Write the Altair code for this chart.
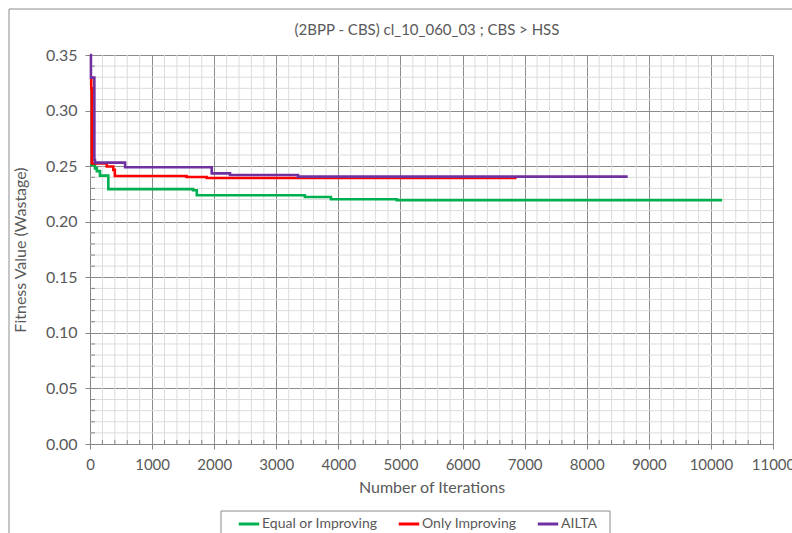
import altair as alt
import pandas as pd

# Convergence traces (iteration at which the best fitness changes, new fitness value)
eq_iter = [0, 80, 110, 160, 295, 1660, 1720, 3460, 3880, 4940, 10180]
eq_val = [0.251, 0.248, 0.2455, 0.2415, 0.2293, 0.2283, 0.2238, 0.2222, 0.2202, 0.2194, 0.2194]

only_iter = [0, 20, 30, 270, 375, 400, 1555, 1880, 6870]
only_val = [0.329, 0.320, 0.2525, 0.2497, 0.2466, 0.2411, 0.2402, 0.2393, 0.2393]

ailta_iter = [0, 15, 70, 80, 565, 1960, 2255, 3350, 8660]
ailta_val = [0.350, 0.3296, 0.2555, 0.2532, 0.2490, 0.2435, 0.2420, 0.2406, 0.2406]

series_names = ["Equal or Improving", "Only Improving", "AILTA"]
series_colors = ["#00B050", "#FF0000", "#7030A0"]

chart_title = "(2BPP - CBS) cl_10_060_03 ; CBS > HSS"

x_major = list(range(0, 11001, 1000))
y_major = [0.0, 0.05, 0.10, 0.15, 0.20, 0.25, 0.30, 0.35]
x_minor = [v for v in range(200, 11000, 200) if v % 1000]
y_minor = [round(i * 0.01, 2) for i in range(1, 35) if i % 5]

FONT = "Lato"
TXT = "#595959"
W, H = 683, 389

rows = []
for name, its, vals in [(series_names[0], eq_iter, eq_val),
                        (series_names[1], only_iter, only_val),
                        (series_names[2], ailta_iter, ailta_val)]:
    for i, v in zip(its, vals):
        rows.append({"series": name, "iter": i, "val": v})
df = pd.DataFrame(rows)

xscale = alt.Scale(domain=[0, 11000], nice=False, zero=False)
yscale = alt.Scale(domain=[0, 0.35], nice=False)

xaxis = alt.Axis(values=x_major, title="Number of Iterations", format="d",
                 grid=True, gridColor="#8c8c8c", gridWidth=1, labelFlush=False,
                 labelFontSize=15, labelPadding=8, titlePadding=7)
yaxis = alt.Axis(values=y_major, title="Fitness Value (Wastage)", format=".2f",
                 grid=True, gridColor="#8c8c8c", gridWidth=1, labelFlush=False,
                 labelPadding=8, titlePadding=17)

one = pd.DataFrame({"k": [0]})

# Outer chart frame (outline only)
frame = alt.Chart(one).mark_rect(
    filled=False, stroke="#8c8c8c", strokeWidth=1
).encode(
    x=alt.value(-81), x2=alt.value(W + 30),
    y=alt.value(-46), y2=alt.value(H + 120),
)

# Chart title
title_mark = alt.Chart(one).mark_text(
    font=FONT, fontSize=15, color=TXT, align="center", baseline="middle"
).encode(x=alt.value(337), y=alt.value(-25), text=alt.value(chart_title))

# Box around the legend entries
legend_box = alt.Chart(one).mark_rect(
    fill="white", stroke="#8c8c8c", strokeWidth=1
).encode(
    x=alt.value(131), x2=alt.value(520),
    y=alt.value(456), y2=alt.value(H + 100),
)

minor_vx = alt.Chart(pd.DataFrame({"x": x_minor})).mark_rule(
    color="#dcdcdc", strokeWidth=1
).encode(x=alt.X("x:Q", scale=xscale, axis=xaxis), y=alt.value(0), y2=alt.value(H))

minor_hy = alt.Chart(pd.DataFrame({"y": y_minor})).mark_rule(
    color="#dcdcdc", strokeWidth=1
).encode(y=alt.Y("y:Q", scale=yscale, axis=yaxis), x=alt.value(0), x2=alt.value(W))

minor_tx = alt.Chart(pd.DataFrame({"x": x_minor})).mark_rule(
    color="#868686", strokeWidth=1
).encode(x=alt.X("x:Q", scale=xscale, axis=xaxis), y=alt.value(H - 4), y2=alt.value(H))

minor_ty = alt.Chart(pd.DataFrame({"y": y_minor})).mark_rule(
    color="#868686", strokeWidth=1
).encode(y=alt.Y("y:Q", scale=yscale, axis=yaxis), x=alt.value(0), x2=alt.value(5))

lines = alt.Chart(df).mark_line(strokeWidth=2.6, interpolate="step-after").encode(
    x=alt.X("iter:Q", scale=xscale, axis=xaxis),
    y=alt.Y("val:Q", scale=yscale, axis=yaxis),
    color=alt.Color("series:N",
                    scale=alt.Scale(domain=series_names, range=series_colors),
                    sort=series_names,
                    legend=alt.Legend(title=None, orient="none", direction="horizontal",
                                      legendX=147, legendY=457,
                                      symbolType="stroke", symbolSize=420,
                                      symbolStrokeWidth=3, labelOffset=1,
                                      columnPadding=14, padding=0,
                                      labelFont=FONT, labelFontSize=14, labelColor=TXT)),
    detail="series:N",
)

chart = alt.layer(frame, title_mark, legend_box, minor_vx, minor_hy, minor_tx, minor_ty,
                  lines).properties(
    width=W, height=H,
    background="white",
    autosize=alt.AutoSizeParams(type="none"),
    padding={"left": 90, "top": 55, "right": 19, "bottom": 89},
).configure_view(stroke=None).configure_axis(
    labelFont=FONT, labelFontSize=16, labelColor=TXT,
    titleFont=FONT, titleFontSize=16, titleFontWeight="normal", titleColor=TXT,
    domainColor="#868686", tickColor="#868686", tickSize=5,
)

chart.save("out.html", embed_options={"renderer": "svg", "actions": False})
